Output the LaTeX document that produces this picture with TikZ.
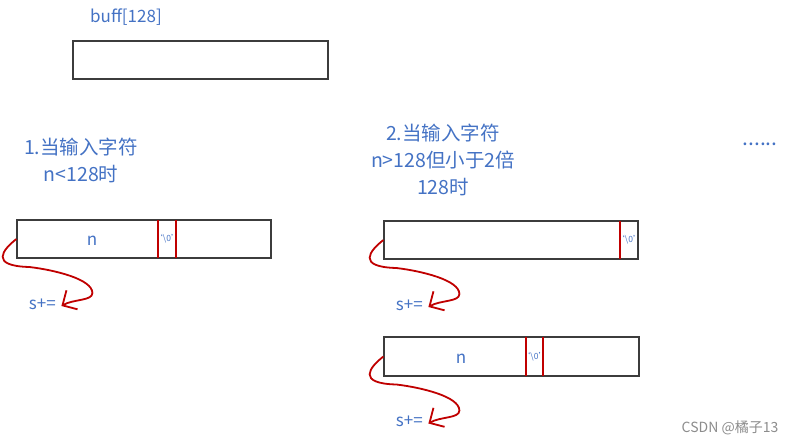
\documentclass[tikz,border=0pt]{standalone}
\usepackage{fontspec}
\setmainfont{Noto Sans CJK SC}
\usetikzlibrary{arrows.meta}
\definecolor{textblue}{RGB}{68,114,196}
\definecolor{markred}{RGB}{192,0,0}
\definecolor{boxgray}{RGB}{60,60,60}

\tikzset{
  cellbox/.style={draw=boxgray, line width=1.2pt, minimum height=38pt, inner sep=0pt},
  nullcell/.style={minimum height=38pt, minimum width=#1, inner sep=0pt,
    text=textblue, font=\fontsize{8.5}{8.5}\selectfont},
  nulline/.style={draw=markred, line width=1.8pt},
  backline/.style={draw=markred, line width=1.8pt,
    -{Straight Barb[length=11pt,width=22pt]}},
  note/.style={text=textblue, font=\fontsize{19.5}{27}\selectfont, align=center},
  tag/.style={text=textblue, font=\fontsize{17}{17}\selectfont, inner sep=0pt},
}
\newcommand{\nullchar}{\makebox[0pt]{‘\textbackslash0’}}

\begin{document}
\begin{tikzpicture}[x=1pt, y=-1pt]
    \useasboundingbox (0,0) rectangle (792,444);

    % the buffer
    \node[tag] (bufname) at (126,17) {buff[128]};
    \node[cellbox, minimum width=255pt] (buf) at (200.5,60) {};

    % case 1
    \node[note] (caseA) at (81,160) {1.当输入字符\\n<128时};
    \node[cellbox, minimum width=254pt] (bufA) at (144,239) {};
    \node[tag] (nA) at (92,241) {n};
    \node[nullcell=18pt] (zeroA) at (167,239) {\nullchar};
    \draw[nulline] (zeroA.north west) -- (zeroA.south west);
    \draw[nulline] (zeroA.north east) -- (zeroA.south east);

    % case 2
    \node[note] (caseB) at (443,160) {2.当输入字符\\n>128但小于2倍\\128时};
    \node[cellbox, minimum width=254pt] (bufB) at (511,240) {};
    \node[nullcell=18pt] (zeroB) at (629,240) {\nullchar};
    \draw[nulline] (zeroB.north west) -- (zeroB.south west);

    \node[cellbox, minimum width=255pt, minimum height=39pt] (bufC) at (511.5,356.5) {};
    \node[tag] (nC) at (461,359) {n};
    \node[nullcell=17pt] (zeroC) at (534.5,356.5) {\nullchar};
    \draw[nulline] (zeroC.north west) -- (zeroC.south west);
    \draw[nulline] (zeroC.north east) -- (zeroC.south east);

    % pointer back to the start
    \foreach \c in {A,B,C} {
      \begin{scope}[shift={(buf\c.west)}]
        \coordinate (tip\c) at (45,67);
        \node[tag] (sum\c) at (26,65) {s+=};
        \draw[backline] (buf\c.west) .. controls (-14,11) and (-27,27) .. (13,28)
          .. controls (38,31) and (76,40) .. (76,54)
          .. controls (76,62) and (57,60) .. (tip\c);
      \end{scope}
    }

    \node[tag, font=\fontsize{21}{21}\selectfont] (more) at (760,144) {......};
    \node[text=black!45, font=\fontsize{14}{14}\selectfont] (mark) at (730,428) {CSDN @橘子13};
\end{tikzpicture}
\end{document}
